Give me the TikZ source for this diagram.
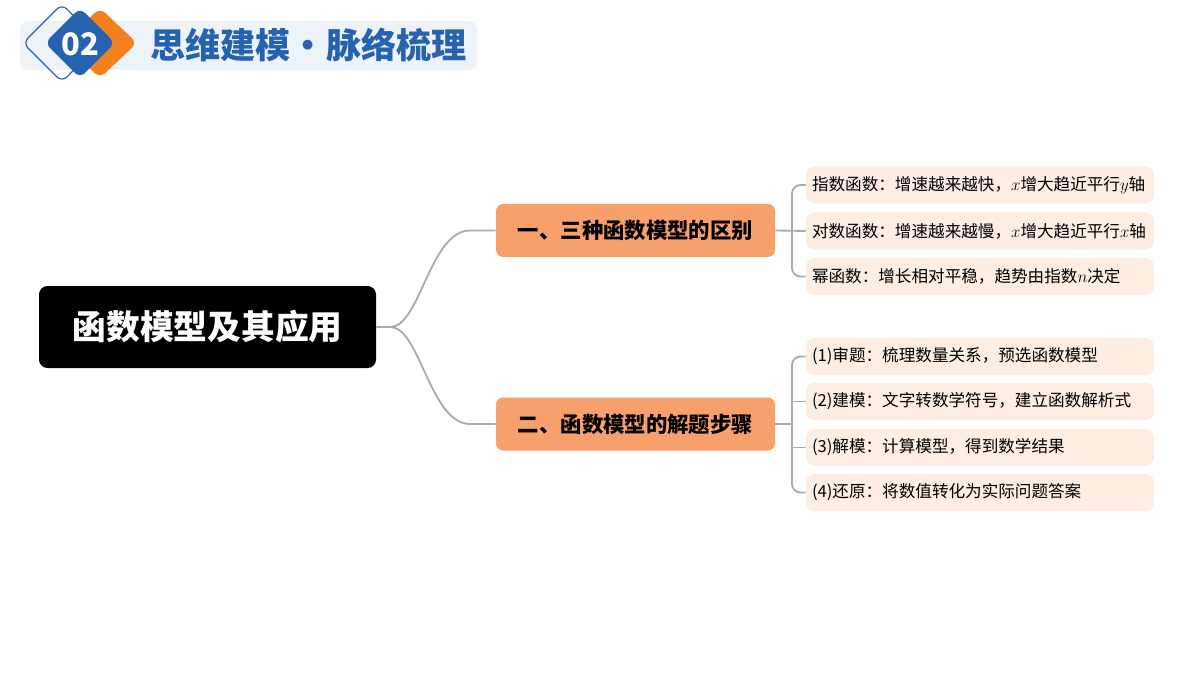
\documentclass[tikz,border=0pt]{standalone}
\usepackage{fontspec}
\setmainfont{Noto Sans CJK SC}
\begin{document}
\begin{tikzpicture}[x=0.025cm,y=-0.025cm,
  leaf/.style={fill=leafc,rounded corners=6pt,minimum width=348*0.025cm,minimum height=37*0.025cm,text width=336*0.025cm,align=left,font=\fontsize{11.8}{13}\selectfont,inner sep=0pt},
  branch/.style={fill=branchc,rounded corners=5pt,minimum width=279*0.025cm,minimum height=53*0.025cm,font=\fontsize{15.2}{16}\selectfont\bfseries,inner sep=0pt},
  conn/.style={draw=linec,line width=1.3pt,rounded corners=6pt}]
\definecolor{leafc}{HTML}{FDEDE3}
\definecolor{branchc}{HTML}{F8A06C}
\definecolor{linec}{HTML}{ABABAB}
\definecolor{hdrbg}{HTML}{EEF3F9}
\definecolor{hblue}{HTML}{2563B0}
\definecolor{horange}{HTML}{F5801E}
\useasboundingbox (0,0) rectangle (1200,675);
\fill[white] (0,0) rectangle (1200,675);
% header
\fill[hdrbg,rounded corners=6pt] (20,21) rectangle (477,70);
\draw[hblue,line width=0.8pt,rounded corners=5pt] (62,4) -- (100,43) -- (62,82) -- (23,43) -- cycle;
\fill[horange,rounded corners=5pt] (100,8) -- (137,43) -- (100,78) -- (63,43) -- cycle;
\fill[hblue,rounded corners=5pt] (80,8) -- (115,43) -- (80,78) -- (45,43) -- cycle;
\node[text=white,font=\fontsize{22}{22}\selectfont\bfseries] (num) at (80,44) {02};
\node[anchor=west,text=hblue,font=\fontsize{25}{25}\selectfont\bfseries,inner sep=0pt] (title) at (150,45) {思维建模·脉络梳理};
% root
\node[fill=black,rounded corners=6pt,minimum width=337*0.025cm,minimum height=82*0.025cm,text=white,font=\fontsize{24}{24}\selectfont\bfseries] (root) at (207.5,327) {函数模型及其应用};
% branches
\node[branch] (b1) at (635.5,230.5) {一、三种函数模型的区别};
\node[branch] (b2) at (635.5,424) {二、函数模型的解题步骤};
% leaves
\node[leaf] (l1) at (980,185) {指数函数：增速越来越快，$x$增大趋近平行$y$轴};
\node[leaf] (l2) at (980,231) {对数函数：增速越来越慢，$x$增大趋近平行$x$轴};
\node[leaf] (l3) at (980,276.5) {幂函数：增长相对平稳，趋势由指数$n$决定};
\node[leaf] (l4) at (980,356.5) {(1)审题：梳理数量关系，预选函数模型};
\node[leaf] (l5) at (980,401.5) {(2)建模：文字转数学符号，建立函数解析式};
\node[leaf] (l6) at (980,447.5) {(3)解模：计算模型，得到数学结果};
\node[leaf] (l7) at (980,492.5) {(4)还原：将数值转化为实际问题答案};
% connectors
\draw[linec,line width=1.3pt] (root.east) -- ++(14,0) .. controls (420,327) and (430,230.5) .. (470,230.5) -- (b1.west);
\draw[linec,line width=1.3pt] (root.east) -- ++(14,0) .. controls (420,327) and (430,424) .. (470,424) -- (b2.west);
\draw[conn] (b1.east) -- (l2.west);
\draw[conn] (l1.west) -- (792,185) -- (792,276.5) -- (l3.west);
\draw[conn] (b2.east) -- (792,424);
\draw[conn] (l4.west) -- (792,356.5) -- (792,492.5) -- (l7.west);
\draw[conn] (792,401.5) -- (l5.west);
\draw[conn] (792,447.5) -- (l6.west);
\end{tikzpicture}
\end{document}
